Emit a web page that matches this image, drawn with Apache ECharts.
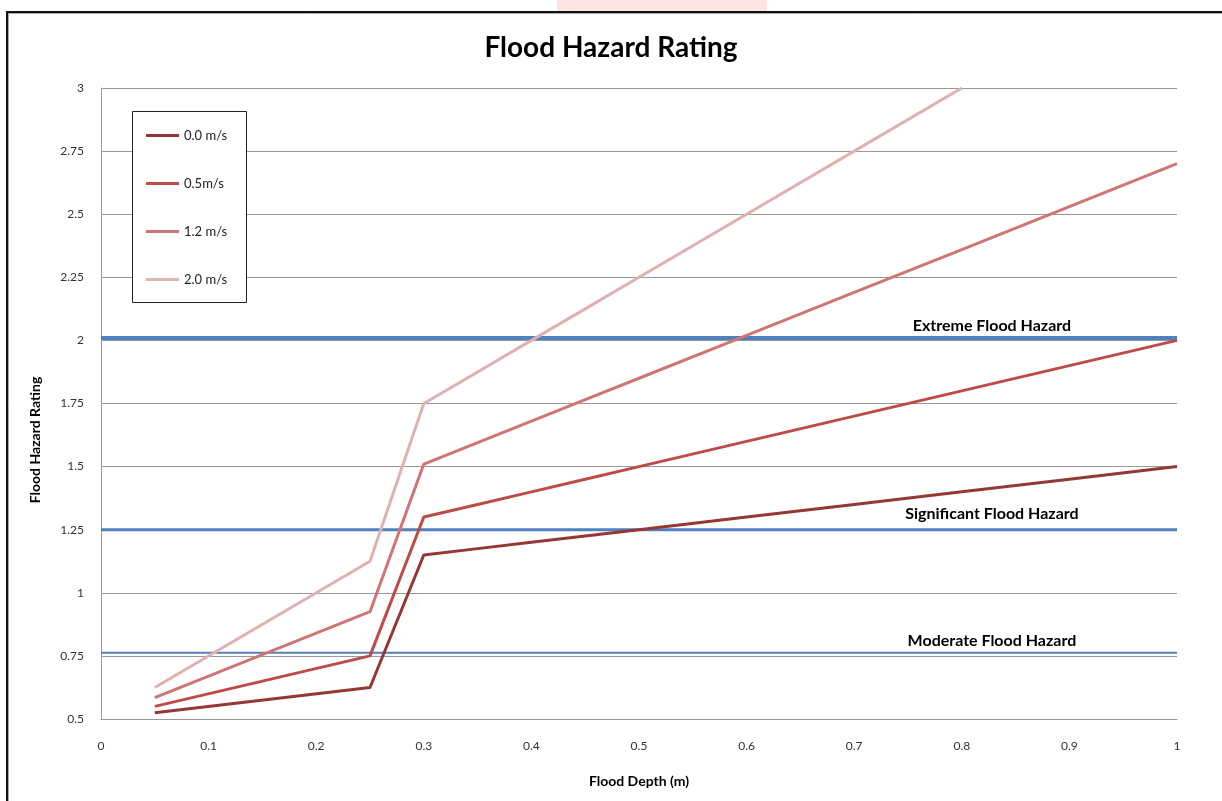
<!DOCTYPE html>
<html>
<head>
<meta charset="utf-8">
<title>Flood Hazard Rating</title>
<script src="https://cdn.jsdelivr.net/npm/echarts@6/dist/echarts.min.js"></script>
<style>
  html, body { margin: 0; padding: 0; background: #fff; }
  #chart { width: 1222px; height: 801px; }
</style>
</head>
<body>
<div id="chart"></div>
<script>
// Flood depth (m) at each sample point
var depths = [0.05, 0.25, 0.3, 0.35, 0.4, 0.45, 0.5, 0.6, 0.7, 0.8, 0.9, 1.0];

// Hazard rating for each flow velocity
var velocityNames = ['0.0 m/s', '0.5m/s', '1.2 m/s', '2.0 m/s'];
var rating00 = [0.525, 0.625, 1.15, 1.175, 1.2, 1.225, 1.25, 1.3, 1.35, 1.4, 1.45, 1.5];
var rating05 = [0.55, 0.75, 1.3, 1.35, 1.4, 1.45, 1.5, 1.6, 1.7, 1.8, 1.9, 2.0];
var rating12 = [0.585, 0.925, 1.51, 1.595, 1.68, 1.765, 1.85, 2.02, 2.19, 2.36, 2.53, 2.7];
var rating20 = [0.625, 1.125, 1.75, 1.875, 2.0, 2.125, 2.25, 2.5, 2.75, 3.0];

// Hazard class thresholds
var thresholdNames = ['Extreme Flood Hazard', 'Significant Flood Hazard', 'Moderate Flood Hazard'];
var thresholdValues = [2.01, 1.25, 0.762];
var thresholdLabelX = 0.828;

var lineColors = ['#953735', '#BE4B48', '#CF7573', '#DFB1B0'];
var thresholdWidths = [4, 3, 2];
var thresholdLabelGap = [4, 8, 4];

function pairs(xs, ys) {
  return ys.map(function (y, i) { return [xs[i], y]; });
}

var ratingSets = [rating00, rating05, rating12, rating20];
var series = ratingSets.map(function (ys, i) {
  return {
    name: velocityNames[i],
    type: 'line',
    data: pairs(depths, ys),
    showSymbol: false,
    symbol: 'none',
    z: 3 + (3 - i),
    lineStyle: { color: lineColors[i], width: 3 },
    itemStyle: { color: lineColors[i] }
  };
});

// Threshold lines drawn as flat two-point series across the depth range
thresholdValues.forEach(function (v, i) {
  series.push({
    name: thresholdNames[i],
    type: 'line',
    data: [[0, v], [1, v]],
    symbol: 'none',
    silent: true,
    z: 2,
    lineStyle: { color: '#4F81BD', width: thresholdWidths[i] }
  });
});

// Threshold captions
var captionFont = { fontFamily: 'Lato', fontWeight: 'bold', fontSize: 16, color: '#000', opacity: 1 };
series.push({
  name: 'captions',
  type: 'scatter',
  symbolSize: 0,
  silent: true,
  z: 5,
  data: thresholdValues.map(function (v, i) {
    return {
      value: [thresholdLabelX, v],
      label: Object.assign({
        show: true,
        position: 'top',
        distance: thresholdLabelGap[i],
        formatter: thresholdNames[i]
      }, captionFont)
    };
  }),
  label: Object.assign({ show: true, position: 'top' }, captionFont)
});

var chart = echarts.init(document.getElementById('chart'), null, { renderer: 'canvas' });

chart.setOption({
  animation: false,
  backgroundColor: '#fff',
  title: {
    text: 'Flood Hazard Rating',
    left: 'center',
    top: 29,
    textStyle: { fontFamily: 'Lato', fontWeight: 'bold', fontSize: 28, color: '#000' }
  },
  grid: { left: 101, right: 45, top: 88, bottom: 82, containLabel: false },
  legend: {
    data: velocityNames,
    orient: 'vertical',
    left: 146,
    top: 129,
    padding: 0,
    itemGap: 35,
    itemWidth: 33,
    itemHeight: 3,
    icon: 'rect',
    z: 10,
    textStyle: { fontFamily: 'Lato', fontSize: 13, color: '#222' }
  },
  xAxis: {
    type: 'value',
    min: 0,
    max: 1,
    interval: 0.1,
    name: 'Flood Depth (m)',
    nameLocation: 'middle',
    nameGap: 55,
    nameTextStyle: { fontFamily: 'Lato', fontWeight: 'bold', fontSize: 14, color: '#000' },
    axisLine: { show: true, lineStyle: { color: '#999', width: 1 } },
    axisTick: { show: false },
    splitLine: { show: false },
    axisLabel: { margin: 21, fontFamily: 'Lato', fontSize: 12, color: '#333' }
  },
  yAxis: {
    type: 'value',
    min: 0.5,
    max: 3,
    interval: 0.25,
    axisLine: { show: true, lineStyle: { color: '#999', width: 1 } },
    axisTick: { show: false },
    splitLine: { show: true, lineStyle: { color: '#999', width: 1 } },
    axisLabel: { margin: 17, fontFamily: 'Lato', fontSize: 12, color: '#333' }
  },
  graphic: [
    // page strip and outer frame
    { type: 'rect', shape: { x: 557, y: 0, width: 210, height: 11 }, style: { fill: '#FCE4E4' }, z: 0 },
    { type: 'line', shape: { x1: 6, y1: 12, x2: 1222, y2: 12 }, style: { stroke: '#111', lineWidth: 2 }, z: 20 },
    { type: 'line', shape: { x1: 7, y1: 12, x2: 7, y2: 801 }, style: { stroke: '#111', lineWidth: 2 }, z: 20 },
    { type: 'line', shape: { x1: 8, y1: 13.5, x2: 1222, y2: 13.5 }, style: { stroke: '#aaa', lineWidth: 1 }, z: 20 },
    { type: 'line', shape: { x1: 8.5, y1: 14, x2: 8.5, y2: 801 }, style: { stroke: '#aaa', lineWidth: 1 }, z: 20 },
    // legend box
    { type: 'rect', shape: { x: 132.5, y: 111.5, width: 114, height: 191 }, style: { fill: '#fff', stroke: '#222', lineWidth: 1 }, z: 8 },
    // y-axis title
    {
      type: 'text',
      x: 35,
      y: 440,
      rotation: Math.PI / 2,
      z: 10,
      style: {
        text: 'Flood Hazard Rating',
        fontFamily: 'Lato',
        fontWeight: 'bold',
        fontSize: 14,
        fill: '#000',
        align: 'center',
        verticalAlign: 'middle'
      }
    }
  ],
  series: series
});
</script>
</body>
</html>
